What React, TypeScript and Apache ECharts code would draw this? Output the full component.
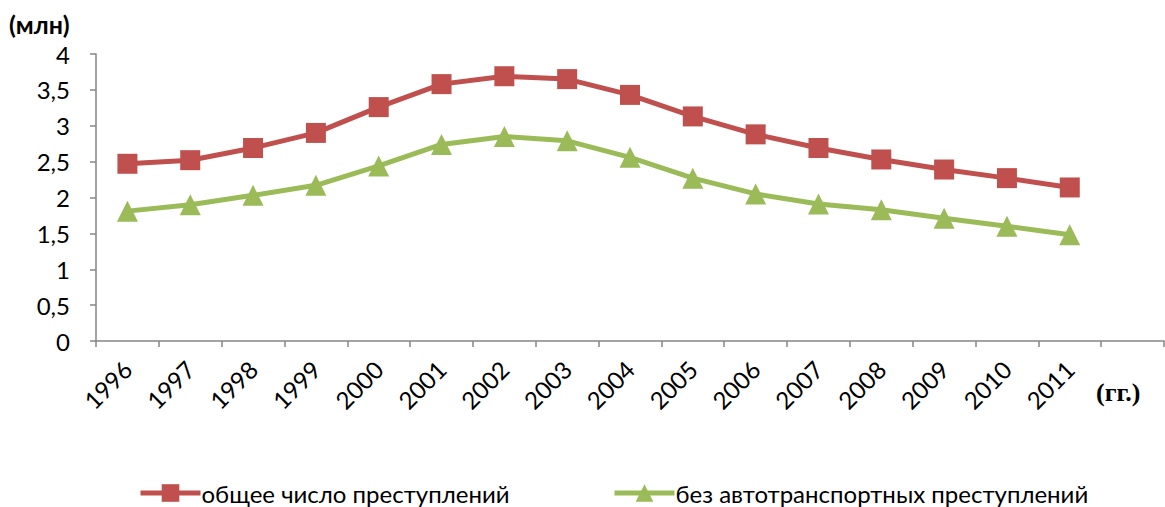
import React, { useEffect, useRef } from "react";
import * as echarts from "echarts";

const years = ["1996","1997","1998","1999","2000","2001","2002","2003","2004","2005","2006","2007","2008","2009","2010","2011",""];
const totalCrimes = [2.47, 2.52, 2.69, 2.90, 3.26, 3.58, 3.69, 3.65, 3.43, 3.13, 2.88, 2.69, 2.53, 2.39, 2.27, 2.14];
const withoutTraffic = [1.81, 1.90, 2.03, 2.17, 2.44, 2.74, 2.85, 2.79, 2.56, 2.27, 2.05, 1.91, 1.83, 1.71, 1.60, 1.48];
const seriesNames = ["общее число преступлений", "без автотранспортных преступлений"];
const yTitle = "(млн)";
const xTitle = "(гг.)";

const FONT = "Lato, 'Open Sans', sans-serif";

export default function App() {
  const ref = useRef<HTMLDivElement>(null);
  useEffect(() => {
    if (!ref.current) return;
    const chart = echarts.init(ref.current, null, { renderer: "svg" });
    const legendBase = {
      top: 481,
      padding: 0,
      itemWidth: 60,
      itemHeight: 22,
      lineStyle: { width: 5 },
      textStyle: { fontSize: 24, lineHeight: 24, fontFamily: FONT, color: "#000", padding: [0, 0, 0, -4] },
    };
    chart.setOption({
      animation: false,
      backgroundColor: "#ffffff",
      grid: { left: 96, right: 1, top: 54, bottom: 166, containLabel: false },
      xAxis: {
        type: "category",
        data: years,
        boundaryGap: true,
        axisLine: { lineStyle: { color: "#868686", width: 1.5 } },
        axisTick: { show: true, length: 6, lineStyle: { color: "#868686", width: 1.5 } },
        axisLabel: {
          interval: 0,
          rotate: 45,
          margin: 24,
          color: "#000",
          fontSize: 24,
          fontFamily: FONT,
        },
        splitLine: { show: false },
      },
      yAxis: {
        type: "value",
        min: 0,
        max: 4,
        interval: 0.5,
        axisLine: { show: true, lineStyle: { color: "#868686", width: 1.5 } },
        axisTick: { show: true, length: 6, lineStyle: { color: "#868686", width: 1.5 } },
        splitLine: { show: false },
        axisLabel: {
          color: "#000",
          fontSize: 24,
          fontFamily: FONT,
          margin: 26,
          formatter: (v: number) => String(v).replace(".", ","),
        },
      },
      legend: [
        { ...legendBase, data: [seriesNames[0]], left: 138 },
        { ...legendBase, data: [seriesNames[1]], left: 612 },
      ],
      series: [
        {
          name: seriesNames[0],
          type: "line",
          data: totalCrimes,
          symbol: "rect",
          symbolSize: 20,
          color: "#C0504D",
          lineStyle: { width: 5, color: "#C0504D" },
          itemStyle: { color: "#C0504D" },
        },
        {
          name: seriesNames[1],
          type: "line",
          data: withoutTraffic,
          symbol: "triangle",
          symbolSize: 21,
          color: "#9BBB59",
          lineStyle: { width: 5, color: "#9BBB59" },
          itemStyle: { color: "#9BBB59" },
        },
      ],
      graphic: [
        {
          type: "text",
          left: 9,
          top: 11,
          style: { text: yTitle, fontSize: 25, fontWeight: "bold", fontFamily: FONT, fill: "#000" },
        },
        {
          type: "text",
          left: 1096,
          top: 379,
          style: { text: xTitle, fontSize: 26, fontWeight: "bold", fontFamily: "'Liberation Serif', 'DejaVu Serif', serif", fill: "#000" },
        },
      ],
    });
    return () => chart.dispose();
  }, []);
  return <div ref={ref} style={{ width: 1165, height: 507, position: "absolute", left: 0, top: 0 }} />;
}
